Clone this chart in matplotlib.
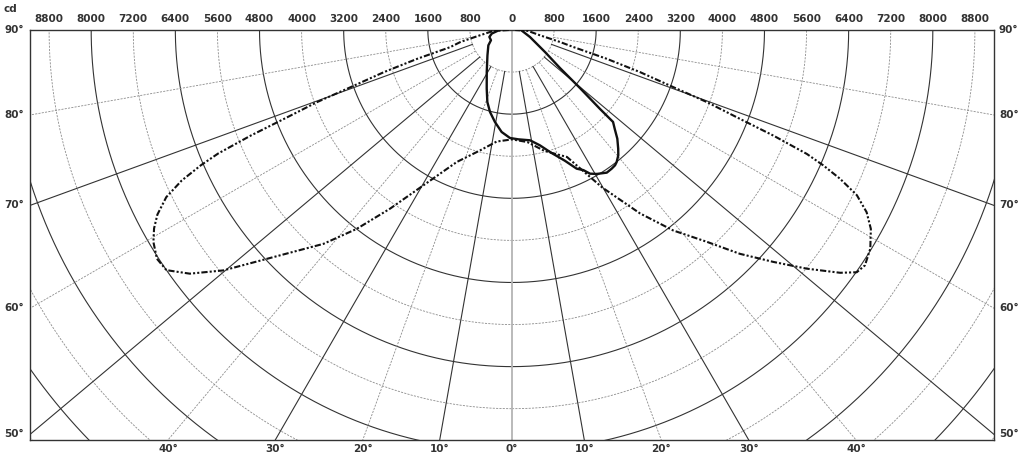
import numpy as np
import matplotlib.pyplot as plt

# polar intensity diagram, angles from nadir in degrees (negative = left side)
# plane 1 (solid, asymmetric)
ang_solid = [-90, -80, -73, -64, -57, -44, -31, -23.3, -18.9, -15, -10.5, -5.8, -1.1,
             3.3, 9.3, 13.6, 17.5, 22, 25, 27, 28.5, 30.5, 33.6, 35.7, 37.3, 38.4, 40.3,
             41.8, 44.1, 46.1, 47.7, 48.1, 49.5, 51.6, 56.3, 68.7, 90]
cd_solid = [240, 390, 450, 445, 536, 672, 932, 1215, 1447, 1614, 1779, 1949, 2053,
            2082, 2125, 2256, 2440, 2680, 2909, 2990, 3108, 3176, 3256, 3247, 3233, 3203, 3124,
            3029, 2877, 2710, 2597, 2249, 1699, 1164, 754, 367, 171]

# plane 2 (dash-dot-dot, batwing)
ang_dd = [-90, -87, -80.6, -77, -74.5, -73.1, -71.8, -70.5, -69.7, -68.7, -68, -67.2,
          -66.5, -65.5, -64.2, -62.5, -61, -59.4, -57.2, -55.2, -52.9, -50.2, -46.4, -41.4,
          -38, -34.3, -29.7, -22.7, -14.9, -7.8, 0,
          7.8, 15, 23.4, 29.8, 34.9, 38.8, 42.6, 45.5, 48.4, 51, 53.5, 54.9, 56.3, 58.6,
          61, 62.8, 64.4, 65.6, 66.5, 67.2, 68, 68.7, 69.7, 70.5, 71.8, 73.1, 74.5, 76,
          79.3, 87, 90]
cd_dd = [60, 360, 617, 1000, 1220, 1880, 2560, 3250, 3950, 4650, 5350, 6060,
         6450, 6900, 7300, 7600, 7780, 7920, 8030, 8000, 7680, 7140, 6260, 5420,
         4800, 4110, 3400, 2720, 2370, 2140, 2080,
         2150, 2380, 2630, 3450, 4250, 4890, 5470, 6070, 6640, 7210, 7760, 8010, 8065, 7980,
         7800, 7580, 7270, 6850, 6450, 6080, 5360, 4650, 3950, 3250, 2560, 1880, 1210, 940,
         540, 300, 60]

top_ticks = [800, 1600, 2400, 3200, 4000, 4800, 5600, 6400, 7200, 8000, 8800]
side_angles = [90, 80, 70, 60, 50]
bottom_angles = [0, 10, 20, 30, 40]

step = 800
xmax = 9163   # half width of the visible window, cd
ymax = 7795   # depth of the visible window, cd

dark = '#333333'
light = '#8c8c8c'


def to_xy(ang, cd):
    t = np.radians(np.asarray(ang, dtype=float))
    r = np.asarray(cd, dtype=float)
    return r * np.sin(t), -r * np.cos(t)


fig = plt.figure(figsize=(10.24, 4.68), dpi=100)
ax = fig.add_axes([30 / 1024, 28 / 468, 964 / 1024, 410 / 468])
ax.set_xlim(-xmax, xmax)
ax.set_ylim(-ymax, 0)
ax.set_xticks([])
ax.set_yticks([])
for s in ax.spines.values():
    s.set_color(dark)
    s.set_linewidth(1.0)

# circles: solid every 1600 cd, dashed in between
phi = np.linspace(0, 2 * np.pi, 1441)
for n in range(1, 16):
    r = n * step
    if n % 2 == 0:
        ax.plot(r * np.sin(phi), -r * np.cos(phi), color=dark, lw=0.8, zorder=1)
    else:
        ax.plot(r * np.sin(phi), -r * np.cos(phi), color=light, lw=0.6,
                dashes=(2.5, 1.5), zorder=1)

# radial lines: solid at 10/30/50/70, dashed at 20/40/60/80
for a in range(-80, 90, 10):
    if a == 0:
        continue
    t = np.radians(a)
    xs = [step * np.sin(t), 20000 * np.sin(t)]
    ys = [-step * np.cos(t), -20000 * np.cos(t)]
    if a % 20 != 0:
        ax.plot(xs, ys, color=dark, lw=0.8, zorder=1)
    else:
        ax.plot(xs, ys, color=light, lw=0.6, dashes=(2.5, 1.5), zorder=1)
ax.axvline(0, color='#b4b4b4', lw=1.3, zorder=1)

# curves
x1, y1 = to_xy(ang_solid, cd_solid)
ax.plot(x1, y1, color='#111111', lw=1.7, zorder=3, solid_joinstyle='round')
x2, y2 = to_xy(ang_dd, cd_dd)
ax.plot(x2, y2, color='#111111', lw=1.5, dashes=(3, 1, 1, 1, 1, 1), zorder=3)

# labels
fs = 7.5
tkw = dict(fontsize=fs, fontweight='bold', color=dark, family='DejaVu Sans')
ax.text(0, 200, '0', ha='center', va='center', **tkw)
for v in top_ticks:
    ax.text(-v, 200, str(v), ha='center', va='center', **tkw)
    ax.text(v, 200, str(v), ha='center', va='center', **tkw)

for a in side_angles:
    y = 0 if a == 90 else -xmax / np.tan(np.radians(a))
    ax.text(-xmax - 110, y, f'{a}°', ha='right', va='center', **tkw)
    ax.text(xmax + 95, y, f'{a}°', ha='left', va='center', **tkw)

for a in bottom_angles:
    x = ymax * np.tan(np.radians(a))
    ax.text(-x, -ymax - 175, f'{a}°', ha='center', va='center', **tkw)
    if a:
        ax.text(x, -ymax - 175, f'{a}°', ha='center', va='center', **tkw)

fig.text(4 / 1024, 1 - 9 / 468, 'cd', ha='left', va='center', **tkw)

fig.savefig('out.png', dpi=100)
